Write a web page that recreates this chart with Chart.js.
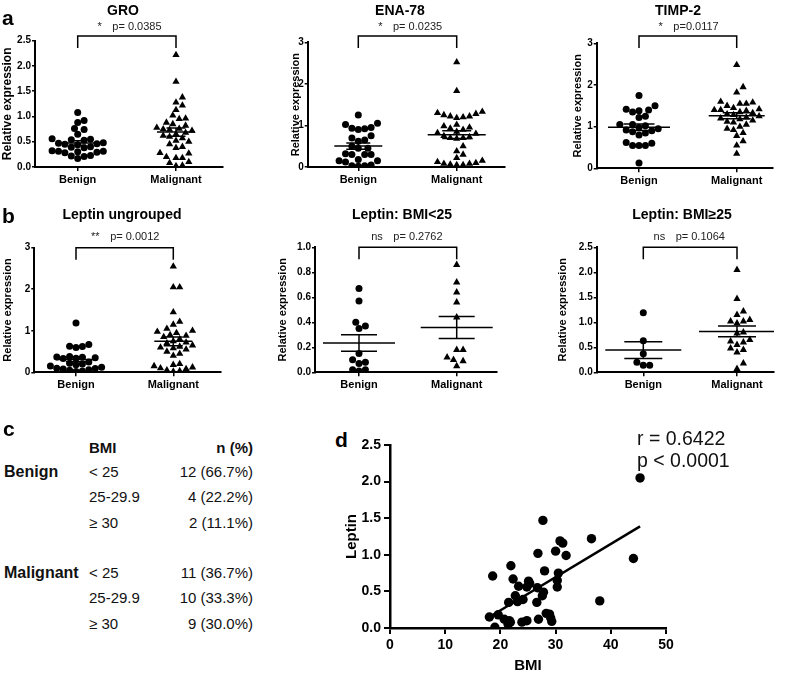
<!DOCTYPE html>
<html>
<head>
<meta charset="utf-8">
<script src="https://cdn.jsdelivr.net/npm/chart.js@4.4.0/dist/chart.umd.min.js"></script>
<style>
  body { margin: 0; background: #fff; font-family: "Liberation Sans", Arial, sans-serif; color: #111; }
  #fig { position: relative; width: 785px; height: 675px; overflow: hidden; }
  canvas { position: absolute; }
  .t { position: absolute; white-space: nowrap; line-height: 20px; }
</style>
</head>
<body>
<div id="fig"></div>
<script>
// ---- data ----
var groups = ["Benign", "Malignant"];

var groBenign = [1.08, 0.92, 0.88, 0.76, 0.74, 0.65, 0.56, 0.55, 0.54, 0.53, 0.48, 0.47, 0.46, 0.45, 0.44, 0.40, 0.39, 0.38, 0.32, 0.31, 0.31, 0.30, 0.29, 0.28, 0.23, 0.22, 0.21, 0.17];
var groMalignant = [2.22, 1.69, 1.38, 1.28, 1.22, 1.13, 1.02, 0.96, 0.95, 0.88, 0.85, 0.82, 0.78, 0.76, 0.75, 0.74, 0.72, 0.68, 0.65, 0.62, 0.60, 0.57, 0.52, 0.50, 0.45, 0.40, 0.38, 0.28, 0.27, 0.20, 0.18, 0.18, 0.10, 0.08, 0.03, 0.02];

var enaBenign = [1.25, 1.05, 1.02, 0.95, 0.93, 0.92, 0.90, 0.75, 0.70, 0.65, 0.62, 0.50, 0.45, 0.45, 0.32, 0.30, 0.30, 0.30, 0.18, 0.15, 0.15, 0.12, 0.05, 0.03, 0.03, 0.02];
var enaMalignant = [2.52, 1.83, 1.33, 1.30, 1.28, 1.25, 1.22, 1.22, 1.20, 1.18, 1.02, 0.98, 0.95, 0.93, 0.90, 0.85, 0.82, 0.80, 0.75, 0.72, 0.70, 0.70, 0.68, 0.50, 0.38, 0.30, 0.22, 0.15, 0.12, 0.10, 0.08, 0.08, 0.06, 0.05, 0.05];

var timpBenign = [1.75, 1.50, 1.42, 1.40, 1.38, 1.35, 1.25, 1.22, 1.05, 1.05, 1.02, 0.98, 0.95, 0.92, 0.90, 0.88, 0.85, 0.80, 0.62, 0.60, 0.55, 0.55, 0.55, 0.13];
var timpMalignant = [2.48, 1.95, 1.82, 1.60, 1.58, 1.55, 1.55, 1.50, 1.45, 1.42, 1.40, 1.40, 1.38, 1.35, 1.33, 1.30, 1.28, 1.25, 1.22, 1.20, 1.18, 1.15, 1.12, 1.10, 1.05, 1.00, 0.95, 0.92, 0.85, 0.78, 0.65, 0.55, 0.35];

var leptinBenign = [1.19, 0.67, 0.63, 0.62, 0.60, 0.38, 0.37, 0.36, 0.35, 0.34, 0.33, 0.25, 0.22, 0.20, 0.18, 0.15, 0.12, 0.10, 0.09, 0.08, 0.06, 0.05, 0.03, 0.02];
var leptinMalignant = [2.55, 2.05, 2.05, 1.45, 1.22, 1.15, 1.05, 1.00, 0.98, 0.95, 0.90, 0.88, 0.85, 0.80, 0.75, 0.72, 0.70, 0.65, 0.62, 0.60, 0.58, 0.55, 0.50, 0.45, 0.40, 0.20, 0.18, 0.15, 0.12, 0.10, 0.08, 0.05, 0.03, 0.02];

var leptinLowBenign = [0.67, 0.57, 0.40, 0.37, 0.35, 0.15, 0.10, 0.08, 0.07, 0.02, 0.02, 0.01];
var leptinLowMalignant = [0.86, 0.72, 0.64, 0.56, 0.44, 0.18, 0.18, 0.12, 0.10, 0.09, 0.05];

var leptinHighBenign = [1.19, 0.63, 0.37, 0.20, 0.14, 0.14];
var leptinHighMalignant = [2.05, 1.47, 1.22, 1.15, 1.05, 1.02, 1.02, 0.98, 0.80, 0.78, 0.65, 0.62, 0.60, 0.55, 0.48, 0.45, 0.40, 0.18, 0.07];

var bmiClasses = ["< 25", "25-29.9", "\u2265 30"];
var benignCounts = [12, 4, 2];
var malignantCounts = [11, 10, 9];

var bmi = [45.3, 44.1, 36.5, 38.0, 27.7, 30.8, 31.3, 30.0, 31.9, 26.8, 21.9, 18.6, 22.3, 28.0, 30.5, 30.3, 30.3, 23.3, 25.1, 25.3, 24.8, 26.7, 27.8, 27.6, 22.7, 24.1, 23.1, 21.5, 26.6, 19.6, 18.0, 20.7, 21.6, 21.8, 21.4, 19.0, 23.9, 24.8, 26.9, 28.3, 28.9, 29.1, 29.3];
var leptin = [2.05, 0.95, 1.22, 0.37, 1.47, 1.19, 1.16, 1.05, 0.99, 1.02, 0.85, 0.71, 0.67, 0.78, 0.75, 0.65, 0.56, 0.57, 0.64, 0.61, 0.56, 0.55, 0.49, 0.44, 0.44, 0.39, 0.36, 0.35, 0.35, 0.18, 0.15, 0.12, 0.10, 0.08, 0.05, 0.01, 0.08, 0.10, 0.12, 0.20, 0.19, 0.14, 0.09];
var corrText = ["r = 0.6422", "p < 0.0001"];

// ---- layout of the six dot plots (canvas-relative pixels) ----
var FONT = "'Liberation Sans', Arial, sans-serif";
var panels = [
  {title: "GRO", x: 0, y: 0, w: 260, h: 195, tx: 123, ty: 10, b: groBenign, m: groMalignant, yMax: 2.5, step: 0.5, dec: 1,
   sig: "*", p: "p= 0.0385", l: 35, r: 223, t: 40.7, bot: 167, benX: 77.7, malX: 176, titleX: 8, ytSize: 12, brY: 36, txY: 27, half: [17, 19]},
  {title: "ENA-78", x: 260, y: 0, w: 260, h: 195, tx: 400, ty: 10, b: enaBenign, m: enaMalignant, yMax: 3, step: 1, dec: 0,
   sig: "*", p: "p= 0.0235", l: 47.7, r: 245, t: 42.3, bot: 167, benX: 98.3, malX: 196.7, titleX: 36.2, ytSize: 11, brY: 36, txY: 27, half: [24, 29]},
  {title: "TIMP-2", x: 520, y: 0, w: 265, h: 195, tx: 678, ty: 10, b: timpBenign, m: timpMalignant, yMax: 3, step: 1, dec: 0,
   sig: "*", p: "p=0.0117", l: 76.7, r: 252.7, t: 43.3, bot: 168.3, benX: 119, malX: 216.7, titleX: 57.5, ytSize: 11, brY: 36, txY: 27, half: [31, 28]},
  {title: "Leptin ungrouped", x: 0, y: 200, w: 260, h: 195, tx: 122, ty: 14, b: leptinBenign, m: leptinMalignant, yMax: 3, step: 1, dec: 0,
   sig: "**", p: "p= 0.0012", l: 34.3, r: 220.7, t: 47.7, bot: 172.3, benX: 76, malX: 173.3, titleX: 8.3, ytSize: 11, brY: 47.7, txY: 37, half: [20, 19]},
  {title: "Leptin: BMI<25", x: 260, y: 200, w: 260, h: 195, tx: 402, ty: 14, b: leptinLowBenign, m: leptinLowMalignant, yMax: 1, step: 0.2, dec: 1,
   sig: "ns", p: "p= 0.2762", l: 55, r: 237, t: 47.3, bot: 172.3, benX: 99, malX: 196.7, titleX: 23.3, ytSize: 11, brY: 47.3, txY: 37, half: [36, 36]},
  {title: "Leptin: BMI\u226525", x: 520, y: 200, w: 265, h: 195, tx: 682, ty: 14, b: leptinHighBenign, m: leptinHighMalignant, yMax: 2.5, step: 0.5, dec: 1,
   sig: "ns", p: "p= 0.1064", l: 76.7, r: 254, t: 47.3, bot: 172.3, benX: 123.3, malX: 217, titleX: 43.3, ytSize: 11, brY: 47.3, txY: 37, half: [38, 38]}
];

var fig = document.getElementById("fig");

function addText(txt, left, top, css) {
  var d = document.createElement("div");
  d.className = "t";
  d.textContent = txt;
  d.style.left = left + "px";
  d.style.top = top + "px";
  if (css) d.style.cssText += css;
  fig.appendChild(d);
  return d;
}

function addCanvas(x, y, w, h) {
  var c = document.createElement("canvas");
  c.width = w; c.height = h;
  c.style.left = x + "px"; c.style.top = y + "px";
  c.style.width = w + "px"; c.style.height = h + "px";
  fig.appendChild(c);
  return c;
}

function stats(v) {
  var n = v.length, m = v.reduce(function (a, b) { return a + b; }, 0) / n;
  var sd = Math.sqrt(v.reduce(function (a, b) { return a + (b - m) * (b - m); }, 0) / (n - 1));
  return {m: m, se: sd / Math.sqrt(n)};
}

// simple beeswarm: put each point as near the centre as it fits
function swarm(vals, center, pxX, pxY) {
  var D = 6.4, placed = [], pts = [];
  vals.slice().sort(function (a, b) { return a - b; }).forEach(function (v) {
    var yp = v * pxY;
    for (var k = 0; k < 200; k++) {
      var dx = (k % 2 ? 1 : -1) * Math.ceil(k / 2) * D / 2;
      var ok = placed.every(function (q) {
        return (q.x - dx) * (q.x - dx) + (q.y - yp) * (q.y - yp) >= D * D - 0.01;
      });
      if (ok) { placed.push({x: dx, y: yp}); pts.push({x: center + dx / pxX, y: v}); break; }
    }
  });
  return pts;
}

function seg(x1, y1, x2, y2, w) {
  return {data: [{x: x1, y: y1}, {x: x2, y: y2}], showLine: true, borderColor: "#000", borderWidth: w || 1.5,
          pointRadius: 0, order: 0};
}

var bracketPlugin = {
  id: "bracket",
  afterDraw: function (chart, args, o) {
    var ctx = chart.ctx, xs = chart.scales.x;
    var x1 = xs.getPixelForValue(1), x2 = xs.getPixelForValue(2), mid = (x1 + x2) / 2;
    ctx.save();
    ctx.strokeStyle = "#000"; ctx.lineWidth = 1.5;
    ctx.beginPath();
    ctx.moveTo(x1, o.y + 12); ctx.lineTo(x1, o.y); ctx.lineTo(x2, o.y); ctx.lineTo(x2, o.y + 12);
    ctx.stroke();
    ctx.fillStyle = "#222"; ctx.font = "11px " + FONT; ctx.textBaseline = "middle";
    ctx.textAlign = "right"; ctx.fillText(o.sig, mid - 25, o.ty);
    ctx.textAlign = "left"; ctx.fillText(o.p, mid - 14.5, o.ty);
    ctx.restore();
  }
};

panels.forEach(function (p) {
  var canvas = addCanvas(p.x, p.y, p.w, p.h);
  var unit = p.malX - p.benX;
  var xMin = 1 - (p.benX - p.l) / unit, xMax = 2 + (p.r - p.malX) / unit;
  var pxX = unit, pxY = (p.bot - p.t) / p.yMax;
  var padL = p.titleX - p.ytSize * 1.2 / 2;

  var ds = [];
  [p.b, p.m].forEach(function (vals, gi) {
    var c = gi + 1, s = stats(vals);
    var hw = p.half[gi] / pxX, sw = hw * 0.5;
    ds.push(seg(c - hw, s.m, c + hw, s.m));
    ds.push(seg(c - sw, s.m + s.se, c + sw, s.m + s.se));
    ds.push(seg(c - sw, s.m - s.se, c + sw, s.m - s.se));
    ds.push(seg(c, s.m - s.se, c, s.m + s.se));
    ds.push({data: swarm(vals, c, pxX, pxY), pointStyle: gi === 0 ? "circle" : "triangle",
             pointRadius: gi === 0 ? 3.5 : 4.2, backgroundColor: "#000", borderColor: "#000", borderWidth: 0, order: 1});
  });

  new Chart(canvas, {
    type: "scatter",
    data: {datasets: ds},
    options: {
      responsive: false, animation: false, devicePixelRatio: 1,
      layout: {padding: {left: padL, top: p.t, right: p.w - p.r, bottom: 0}},
      plugins: {legend: {display: false}, tooltip: {enabled: false}, bracket: {y: p.brY, ty: p.txY, sig: p.sig, p: p.p}},
      scales: {
        x: {
          type: "linear", min: xMin, max: xMax,
          afterBuildTicks: function (s) { s.ticks = [{value: 1}, {value: 2}]; },
          ticks: {callback: function (v) { return groups[v - 1]; }, color: "#000", padding: 2, maxRotation: 0, autoSkip: false,
                  font: {family: FONT, size: 11, weight: "bold"}},
          grid: {drawOnChartArea: false, color: "#000", lineWidth: 1.5, tickLength: 4},
          border: {color: "#000", width: 2},
          afterFit: function (s) { s.height = p.h - p.bot; }
        },
        y: {
          min: 0, max: p.yMax,
          ticks: {stepSize: p.step, color: "#000", padding: 1, font: {family: FONT, size: 10, weight: "bold"},
                  callback: function (v) { return v.toFixed(p.dec); }},
          grid: {drawOnChartArea: false, color: "#000", lineWidth: 1.5, tickLength: 3},
          border: {color: "#000", width: 2},
          title: {display: true, text: "Relative expression", color: "#000", padding: 0,
                  font: {family: FONT, size: p.ytSize, weight: "bold"}},
          afterFit: function (s) { s.width = p.l - padL; }
        }
      }
    },
    plugins: [bracketPlugin]
  });

  addText(p.title, p.tx, p.y + p.ty - 10, "font-size:14px;font-weight:bold;transform:translateX(-50%);color:#000;");
});

// ---- panel letters ----
addText("a", 2, 8, "font-size:21px;font-weight:bold;color:#000;");
addText("b", 2, 206, "font-size:21px;font-weight:bold;color:#000;");
addText("c", 3, 419, "font-size:21px;font-weight:bold;color:#000;");
addText("d", 335, 430, "font-size:21px;font-weight:bold;color:#000;");

// ---- panel c: BMI table ----
addText("BMI", 89, 438, "font-size:15px;font-weight:bold;");
addText("n (%)", 253, 438, "font-size:15px;font-weight:bold;transform:translateX(-100%);");
[["Benign", benignCounts, 462], ["Malignant", malignantCounts, 563]].forEach(function (g) {
  var total = g[1].reduce(function (a, b) { return a + b; }, 0);
  addText(g[0], 4, g[2], "font-size:16px;font-weight:bold;");
  bmiClasses.forEach(function (cl, i) {
    var y = g[2] + i * 25.3;
    addText(cl, 89, y, "font-size:15px;");
    addText(g[1][i] + " (" + (100 * g[1][i] / total).toFixed(1) + "%)", 253, y, "font-size:15px;transform:translateX(-100%);");
  });
});

// ---- panel d: leptin vs BMI ----
(function () {
  var canvas = addCanvas(330, 400, 455, 275);
  var n = bmi.length;
  var mx = bmi.reduce(function (a, b) { return a + b; }, 0) / n;
  var my = leptin.reduce(function (a, b) { return a + b; }, 0) / n;
  var sxy = 0, sxx = 0;
  for (var i = 0; i < n; i++) { sxy += (bmi[i] - mx) * (leptin[i] - my); sxx += (bmi[i] - mx) * (bmi[i] - mx); }
  var slope = sxy / sxx, icpt = my - slope * mx;
  var x0 = Math.min.apply(null, bmi), x1 = Math.max.apply(null, bmi);
  var pts = bmi.map(function (b, i) { return {x: b, y: leptin[i]}; });

  new Chart(canvas, {
    type: "scatter",
    data: {datasets: [
      seg(x0, slope * x0 + icpt, x1, slope * x1 + icpt, 2.5),
      {data: pts, pointStyle: "circle", pointRadius: 4.7, backgroundColor: "#000", borderWidth: 0, order: 1}
    ]},
    options: {
      responsive: false, animation: false, devicePixelRatio: 1,
      layout: {padding: {left: 12.4, top: 45, right: 119, bottom: 0}},
      plugins: {legend: {display: false}, tooltip: {enabled: false}},
      scales: {
        x: {
          type: "linear", min: 0, max: 50,
          ticks: {stepSize: 10, color: "#000", padding: 3, font: {family: FONT, size: 14, weight: "bold"}},
          grid: {drawOnChartArea: false, color: "#000", lineWidth: 2, tickLength: 6},
          border: {color: "#000", width: 2.5},
          title: {display: true, text: "BMI", color: "#000", padding: 0, font: {family: FONT, size: 15, weight: "bold"}},
          afterFit: function (s) { s.height = 47; }
        },
        y: {
          min: 0, max: 2.5,
          ticks: {stepSize: 0.5, color: "#000", padding: 3, font: {family: FONT, size: 14, weight: "bold"},
                  callback: function (v) { return v.toFixed(1); }},
          grid: {drawOnChartArea: false, color: "#000", lineWidth: 2, tickLength: 6},
          border: {color: "#000", width: 2.5},
          title: {display: true, text: "Leptin", color: "#000", padding: 0, font: {family: FONT, size: 15, weight: "bold"}},
          afterFit: function (s) { s.width = 60 - 12.4; }
        }
      }
    }
  });

  addText(corrText[0], 637, 427, "font-size:19.5px;line-height:22px;");
  addText(corrText[1], 637, 449, "font-size:19.5px;line-height:22px;");
})();
</script>
</body>
</html>
